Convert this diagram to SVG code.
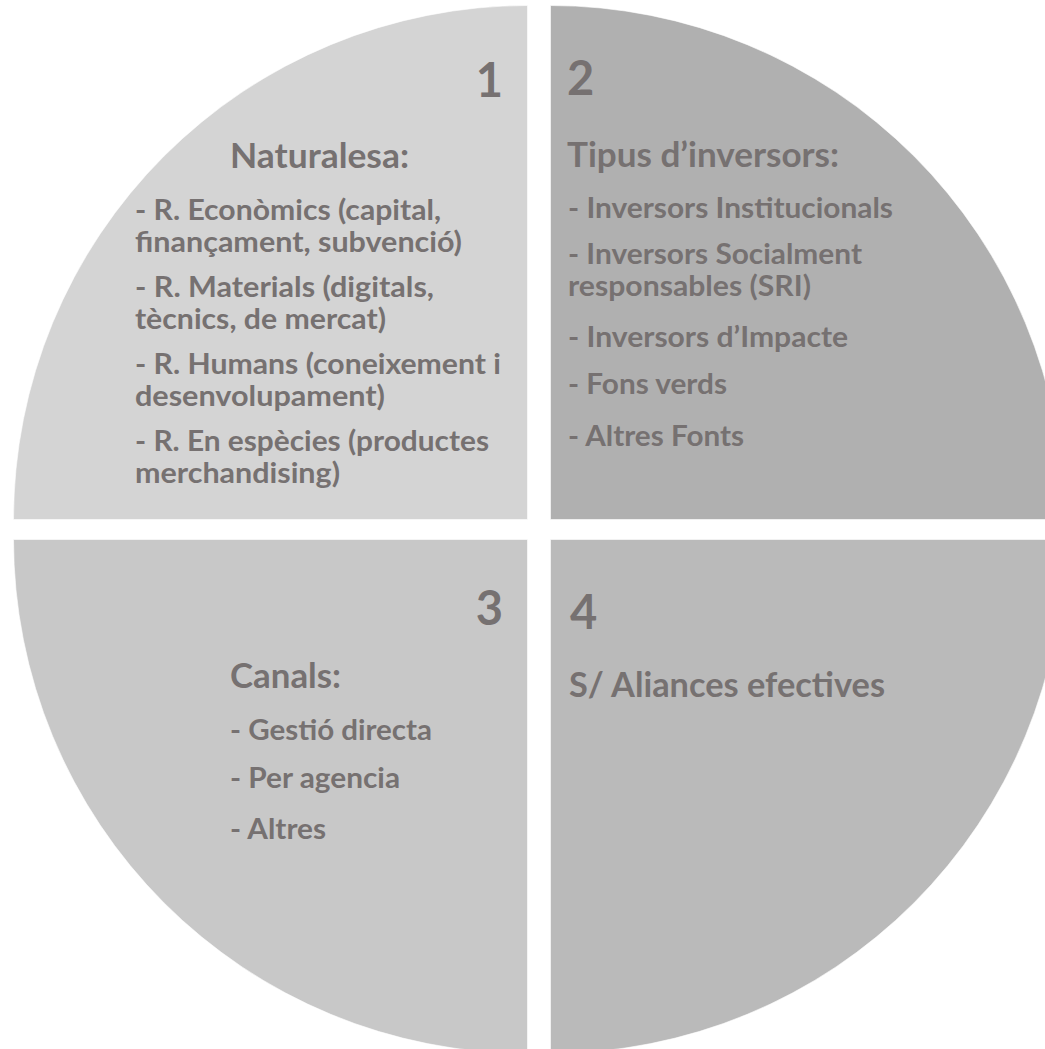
<svg xmlns="http://www.w3.org/2000/svg" width="1045" height="1049" viewBox="0 0 1045 1049">
<style>
.q{stroke:#ffffff;stroke-width:1;stroke-opacity:0.6}
.t{font-family:Lato,"Open Sans","Liberation Sans",sans-serif;font-weight:700;fill:#767171}
.num{font-size:47px}
.h{font-size:33.5px}
.i{font-size:28.6px}
</style>
<rect width="1045" height="1049" fill="#ffffff"/>
<g id="connectors"/>
<g id="q1">
<path class="q" fill="#d4d4d4" d="M527.5,519.5 L13.5,519.5 A514,514 0 0 1 527.5,5.5 Z"/>
<text class="t num" x="503" y="97" text-anchor="end">1</text>
<text class="t h" x="230" y="168" textLength="179" lengthAdjust="spacingAndGlyphs">Naturalesa:</text>
<text class="t i" x="135" y="220" textLength="306" lengthAdjust="spacingAndGlyphs">- R. Econòmics (capital,</text>
<text class="t i" x="135" y="252" textLength="327" lengthAdjust="spacingAndGlyphs">finançament, subvenció)</text>
<text class="t i" x="135" y="297" textLength="299" lengthAdjust="spacingAndGlyphs">- R. Materials (digitals,</text>
<text class="t i" x="135" y="329" textLength="251" lengthAdjust="spacingAndGlyphs">tècnics, de mercat)</text>
<text class="t i" x="135" y="374" textLength="366" lengthAdjust="spacingAndGlyphs">- R. Humans (coneixement i</text>
<text class="t i" x="135" y="406" textLength="250" lengthAdjust="spacingAndGlyphs">desenvolupament)</text>
<text class="t i" x="135" y="451" textLength="354" lengthAdjust="spacingAndGlyphs">- R. En espècies (productes</text>
<text class="t i" x="135" y="483" textLength="205" lengthAdjust="spacingAndGlyphs">merchandising)</text>
</g>
<g id="q2">
<path class="q" fill="#b0b0b0" d="M550.5,519.5 L550.5,5.5 A514,514 0 0 1 1064.5,519.5 Z"/>
<text class="t num" x="567" y="95">2</text>
<text class="t h" x="567" y="167" textLength="272" lengthAdjust="spacingAndGlyphs">Tipus d’inversors:</text>
<text class="t i" x="568" y="218" textLength="325" lengthAdjust="spacingAndGlyphs">- Inversors Institucionals</text>
<text class="t i" x="568" y="264" textLength="294" lengthAdjust="spacingAndGlyphs">- Inversors Socialment</text>
<text class="t i" x="568" y="296" textLength="243" lengthAdjust="spacingAndGlyphs">responsables (SRI)</text>
<text class="t i" x="568" y="347" textLength="280" lengthAdjust="spacingAndGlyphs">- Inversors d’Impacte</text>
<text class="t i" x="568" y="394" textLength="159" lengthAdjust="spacingAndGlyphs">- Fons verds</text>
<text class="t i" x="568" y="446" textLength="176" lengthAdjust="spacingAndGlyphs">- Altres Fonts</text>
</g>
<g id="q3">
<path class="q" fill="#c8c8c8" d="M527.5,539.5 L527.5,1053.5 A514,514 0 0 1 13.5,539.5 Z"/>
<text class="t num" x="503" y="625" text-anchor="end">3</text>
<text class="t h" x="230" y="688" textLength="111" lengthAdjust="spacingAndGlyphs">Canals:</text>
<text class="t i" x="230" y="740" textLength="202" lengthAdjust="spacingAndGlyphs">- Gestió directa</text>
<text class="t i" x="230" y="788" textLength="170" lengthAdjust="spacingAndGlyphs">- Per agencia</text>
<text class="t i" x="230" y="839" textLength="96" lengthAdjust="spacingAndGlyphs">- Altres</text>
</g>
<g id="q4">
<path class="q" fill="#bababa" d="M550.5,539.5 L1064.5,539.5 A514,514 0 0 1 550.5,1053.5 Z"/>
<text class="t num" x="570" y="629">4</text>
<text class="t h" x="569" y="697" textLength="316" lengthAdjust="spacingAndGlyphs">S/ Aliances efectives</text>
</g>
</svg>
